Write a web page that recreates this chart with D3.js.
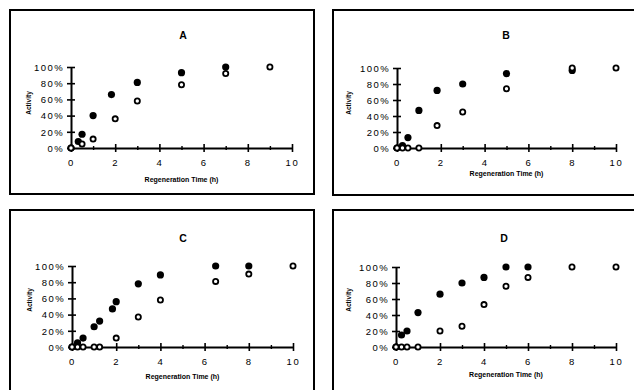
<!DOCTYPE html>
<html>
<head>
<meta charset="utf-8">
<script src="https://cdn.jsdelivr.net/npm/d3@7"></script>
<style>
html,body{margin:0;padding:0;background:#fff;}
svg{display:block;}
</style>
</head>
<body>
<svg id="chart" width="634" height="390"></svg>
<script>
// ---------- DATA ----------
const panelNames = ["A", "B", "C", "D"];

// Panel A
const timeA_filled     = [0, 0.33, 0.5, 1, 1.83, 3, 5, 7];
const activityA_filled = [0, 8, 17, 40, 66, 81, 93, 100];
const timeA_open       = [0, 0.5, 1, 2, 3, 5, 7, 9];
const activityA_open   = [0, 5, 11, 36, 58, 78, 92, 100];

// Panel B
const timeB_filled     = [0, 0.25, 0.5, 1, 1.83, 3, 5, 8];
const activityB_filled = [0, 3, 13, 47, 72, 80, 93, 97];
const timeB_open       = [0, 0.25, 0.5, 1, 1.83, 3, 5, 8, 10];
const activityB_open   = [0, 0, 0, 0, 28, 45, 74, 100, 100];

// Panel C
const timeC_filled     = [0, 0.25, 0.5, 1, 1.25, 1.83, 2, 3, 4, 6.5, 8];
const activityC_filled = [0, 5, 11, 25, 32, 47, 56, 78, 89, 100, 100];
const timeC_open       = [0, 0.25, 0.5, 1, 1.25, 2, 3, 4, 6.5, 8, 10];
const activityC_open   = [0, 0, 0, 0, 0, 11, 37, 58, 81, 90, 100];

// Panel D
const timeD_filled     = [0, 0.25, 0.5, 1, 2, 3, 4, 5, 6];
const activityD_filled = [0, 15, 20, 43, 66, 80, 87, 100, 100];
const timeD_open       = [0, 0.25, 0.5, 1, 2, 3, 4, 5, 6, 8, 10];
const activityD_open   = [0, 0, 0, 0, 20, 26, 53, 76, 87, 100, 100];

const xMajorTicks = [0, 2, 4, 6, 8, 10];
const xMinorTicks = [1, 3, 5, 7, 9];
const yTicks      = [0, 20, 40, 60, 80, 100];
const xTickLabels = ["0", "2", "4", "6", "8", "10"];
const yTickLabels = ["0%", "20%", "40%", "60%", "80%", "100%"];
const xAxisTitle  = "Regeneration Time (h)";
const yAxisTitle  = "Activity";

// ---------- LAYOUT ----------
const series = {
  A: {filled: [timeA_filled, activityA_filled], open: [timeA_open, activityA_open]},
  B: {filled: [timeB_filled, activityB_filled], open: [timeB_open, activityB_open]},
  C: {filled: [timeC_filled, activityC_filled], open: [timeC_open, activityC_open]},
  D: {filled: [timeD_filled, activityD_filled], open: [timeD_open, activityD_open]}
};
const layout = {
  A: {box:[10,10,304,184], x:[71,292], y:[148,67], title:[183,35], xlab:180, ylab:[29,103]},
  B: {box:[333,10,320,185], x:[397,616], y:[148,68], title:[506,35], xlab:174, ylab:[349,103]},
  C: {box:[10,210,304,200], x:[72,293], y:[347,266], title:[183,238], xlab:377, ylab:[30,300]},
  D: {box:[333,210,320,200], x:[396,616], y:[347,267], title:[504,238], xlab:375, ylab:[349,300]}
};

const svg = d3.select("#chart");
const FONT = "'Liberation Sans', Arial, Helvetica, sans-serif";

panelNames.forEach(name => {
  const L = layout[name];
  const S = series[name];
  const g = svg.append("g");

  g.append("rect")
    .attr("x", L.box[0]).attr("y", L.box[1])
    .attr("width", L.box[2]).attr("height", L.box[3])
    .attr("fill", "none").attr("stroke", "#000").attr("stroke-width", 2);

  const x = d3.scaleLinear().domain([0, 10]).range(L.x);
  const y = d3.scaleLinear().domain([0, 100]).range(L.y);

  // x axis major
  const xa = g.append("g").attr("transform", `translate(0,${L.y[0]})`)
    .call(d3.axisBottom(x).tickValues(xMajorTicks).tickSize(4).tickSizeOuter(0)
      .tickFormat((d, i) => xTickLabels[i]));
  xa.select(".domain").attr("stroke-width", 2).attr("stroke", "#000");
  xa.selectAll(".tick line").attr("y1", -4).attr("y2", 4).attr("stroke-width", 1.6);
  xa.selectAll(".tick text").attr("y", 15).attr("dy", "0.35em")
    .style("font-family", FONT).style("font-size", "9.5px").style("letter-spacing", "1.6px")
    .attr("fill", "#000");
  // x axis minor
  const xm = g.append("g").attr("transform", `translate(0,${L.y[0]})`)
    .call(d3.axisBottom(x).tickValues(xMinorTicks).tickSize(2).tickSizeOuter(0).tickFormat(""));
  xm.select(".domain").remove();
  xm.selectAll(".tick line").attr("y1", -2).attr("y2", 2).attr("stroke-width", 1.4);

  // y axis
  const ya = g.append("g").attr("transform", `translate(${L.x[0]},0)`)
    .call(d3.axisLeft(y).tickValues(yTicks).tickSize(4).tickSizeOuter(0)
      .tickFormat((d, i) => yTickLabels[i]));
  ya.select(".domain").attr("stroke-width", 2).attr("stroke", "#000");
  ya.selectAll(".tick line").attr("x1", -4).attr("x2", 4).attr("stroke-width", 1.6);
  ya.selectAll(".tick text").attr("x", -7).attr("dy", "0.35em")
    .style("font-family", FONT).style("font-size", "9.5px").style("letter-spacing", "1.4px")
    .attr("fill", "#000");

  // titles
  g.append("text").attr("x", L.title[0]).attr("y", L.title[1]).attr("dy", "0.35em")
    .attr("text-anchor", "middle").style("font-family", FONT).style("font-weight", "bold")
    .style("font-size", "10.5px").text(name);
  g.append("text").attr("x", (L.x[0] + L.x[1]) / 2).attr("y", L.xlab).attr("dy", "0.35em")
    .attr("text-anchor", "middle").style("font-family", FONT).style("font-weight", "bold")
    .style("font-size", "7px").text(xAxisTitle);
  g.append("text").attr("transform", `translate(${L.ylab[0]},${L.ylab[1]}) rotate(-90)`)
    .attr("dy", "0.35em").attr("text-anchor", "middle").style("font-family", FONT)
    .style("font-weight", "bold").style("font-size", "6.5px").text(yAxisTitle);

  // points
  const filled = S.filled[0].map((t, i) => [t, S.filled[1][i]]);
  const open = S.open[0].map((t, i) => [t, S.open[1][i]]);
  g.selectAll(".f").data(filled).join("circle").attr("class", "f")
    .attr("cx", d => x(d[0])).attr("cy", d => y(d[1])).attr("r", 3.6).attr("fill", "#000");
  g.selectAll(".o").data(open).join("circle").attr("class", "o")
    .attr("cx", d => x(d[0])).attr("cy", d => y(d[1])).attr("r", 2.6)
    .attr("fill", "#fff").attr("stroke", "#000").attr("stroke-width", 1.8);
});
</script>
</body>
</html>
